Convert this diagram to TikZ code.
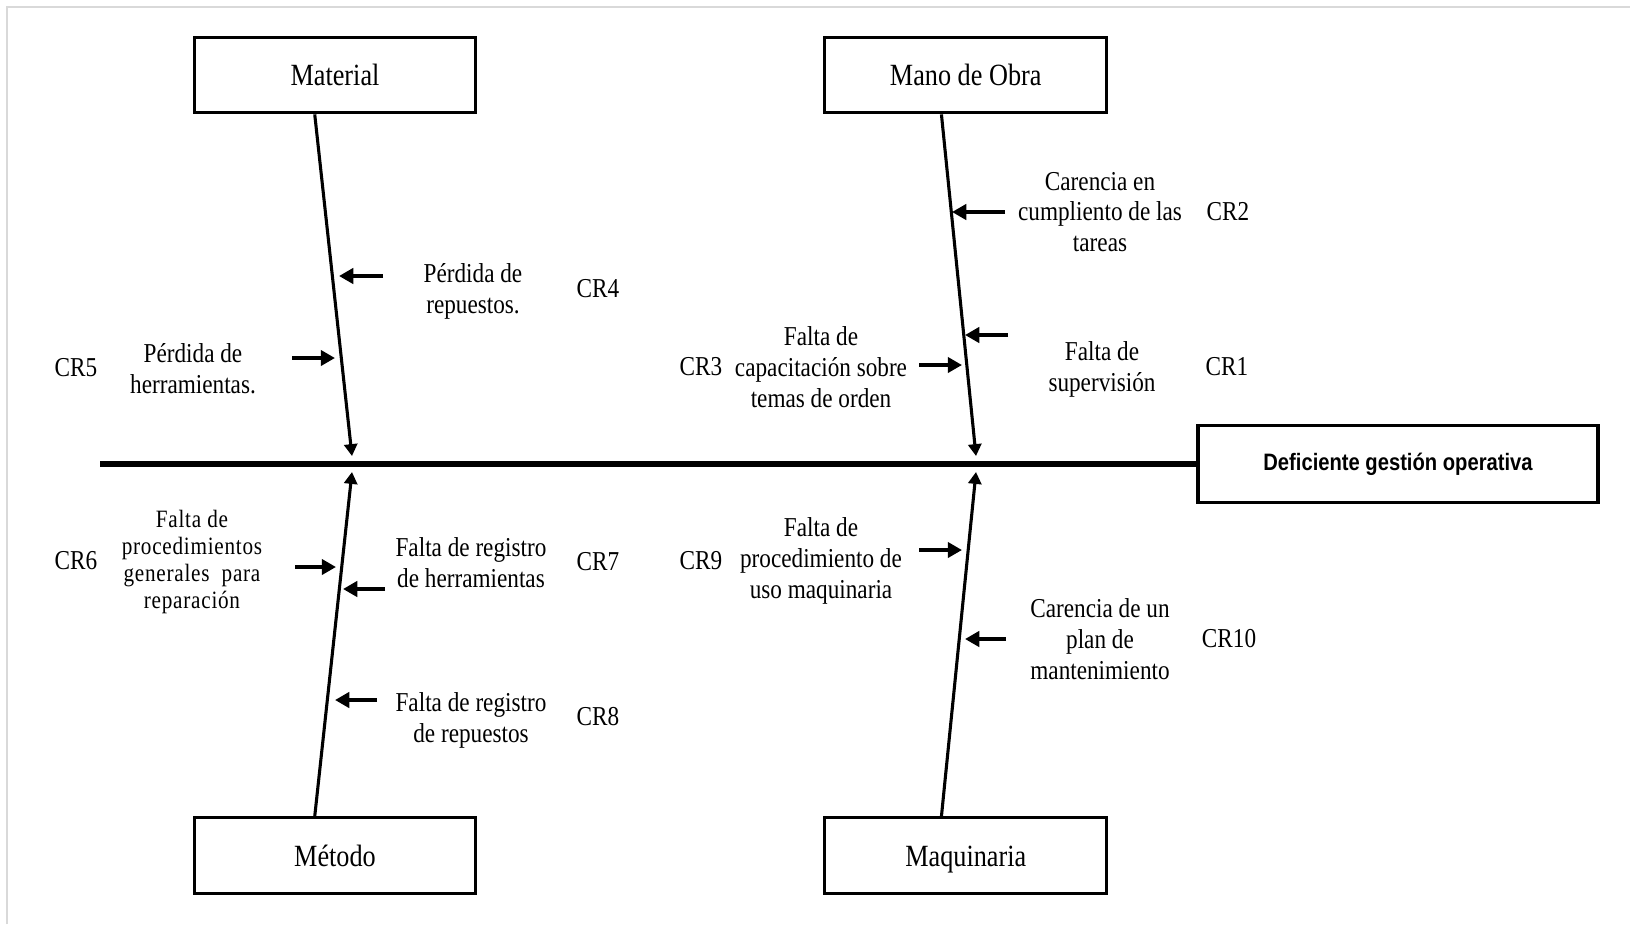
\documentclass[tikz,border=0pt]{standalone}
\usepackage{fontspec}
\setmainfont{Liberation Serif}[FakeStretch=0.85]
\setsansfont{Liberation Sans}[FakeStretch=0.85]
\newfontfamily\spacedserif{Liberation Serif}[FakeStretch=0.85, LetterSpace=3]
\usetikzlibrary{positioning, arrows.meta}

\begin{document}
\begin{tikzpicture}[
    x=0.0148cm, y=-0.0148cm,
    node distance=1cm,
    cat/.style={
        rectangle,
        draw,
        line width=1.3pt,
        minimum width=4.17cm,
        minimum height=1.12cm,
        text height=11pt,
        text depth=2pt,
        align=center,
        font=\fontsize{13}{14}\selectfont
    },
    effect/.style={
        rectangle,
        draw,
        line width=1.3pt,
        minimum width=5.92cm,
        minimum height=1.14cm,
        align=center,
        font=\sffamily\bfseries\fontsize{10}{12}\selectfont
    },
    cause/.style={align=center, font=\fontsize{11.5}{13}\selectfont},
    code/.style={font=\fontsize{11.5}{13}\selectfont},
    spine/.style={line width=2.8pt},
    bone/.style={-{Triangle[length=5pt, width=5.5pt]}, line width=1.3pt},
    hint/.style={-{Triangle[length=6pt, width=6.4pt]}, line width=2pt}
]

% Frame (top and left edge only)
\useasboundingbox (0,0) rectangle (1630,924);
\draw[black!15, line width=0.8pt] (7,924) -- (7,7) -- (1630,7);

% Categories
\node[cat] (material) at (335,75) {Material};
\node[cat, right=5.12cm of material] (mano) {Mano de Obra};
\node[cat, below=10.39cm of material] (metodo) {Método};
\node[cat, below=10.39cm of mano] (maquinaria) {Maquinaria};

% Effect and spine
\node[effect] (effect) at (1398,464) {Deficiente gestión operativa};
\coordinate (tail) at (100,464);
\draw[spine] (tail) -- (effect.west);

% Bones
\coordinate (matTip) at (352,456);
\coordinate (manoTip) at (976,456);
\coordinate (metTip) at (352,472);
\coordinate (maqTip) at (976,472);
\draw[bone] ([xshift=-0.3cm]material.south) -- (matTip);
\draw[bone] ([xshift=-0.36cm]mano.south) -- (manoTip);
\draw[bone] ([xshift=-0.3cm]metodo.north) -- (metTip);
\draw[bone] ([xshift=-0.36cm]maquinaria.north) -- (maqTip);

% Material causes
\node[cause] (c4) at (473,291) {Pérdida de\\repuestos.};
\node[code] (cr4) at (598,289) {CR4};
\node[cause] (c5) at (193,369) {Pérdida de\\herramientas.};
\node[code] (cr5) at (76,368) {CR5};
\coordinate (s4) at (383,276);
\coordinate (e4) at (339,276);
\coordinate (s5) at (292,358);
\coordinate (e5) at (335,358);
\draw[hint] (s4) -- (e4);
\draw[hint] (s5) -- (e5);

% Mano de Obra causes
\node[cause] (c2) at (1100,212) {Carencia en\\cumpliento de las\\tareas};
\node[code] (cr2) at (1228,212) {CR2};
\node[cause] (c1) at (1102,369) {Falta de\\supervisión};
\node[code] (cr1) at (1227,367) {CR1};
\node[cause] (c3) at (821,367) {Falta de\\capacitación sobre\\temas de orden};
\node[code] (cr3) at (701,367) {CR3};
\coordinate (s2) at (1005,212);
\coordinate (e2) at (952,212);
\coordinate (s1) at (1008,335);
\coordinate (e1) at (965,335);
\coordinate (s3) at (919,365);
\coordinate (e3) at (962,365);
\draw[hint] (s2) -- (e2);
\draw[hint] (s1) -- (e1);
\draw[hint] (s3) -- (e3);

% Metodo causes
\node[cause, font=\spacedserif\fontsize{10.5}{11.3}\selectfont] (c6) at (192,562) {Falta de\\procedimientos\\generales~ para\\reparación};
\node[code] (cr6) at (76,561) {CR6};
\node[cause] (c7) at (471,563) {Falta de registro\\de herramientas};
\node[code] (cr7) at (598,562) {CR7};
\node[cause] (c8) at (471,720) {Falta de registro\\de repuestos};
\node[code] (cr8) at (598,717) {CR8};
\coordinate (s6) at (295,567);
\coordinate (e6) at (336,567);
\coordinate (s7) at (385,589);
\coordinate (e7) at (343,589);
\coordinate (s8) at (377,700);
\coordinate (e8) at (335,700);
\draw[hint] (s6) -- (e6);
\draw[hint] (s7) -- (e7);
\draw[hint] (s8) -- (e8);

% Maquinaria causes
\node[cause] (c9) at (821,561) {Falta de\\procedimiento de\\uso maquinaria};
\node[code] (cr9) at (701,561) {CR9};
\node[cause] (c10) at (1100,639) {Carencia de un\\plan de\\mantenimiento};
\node[code] (cr10) at (1229,639) {CR10};
\coordinate (s9) at (919,550);
\coordinate (e9) at (962,550);
\coordinate (s10) at (1006,639);
\coordinate (e10) at (965,639);
\draw[hint] (s9) -- (e9);
\draw[hint] (s10) -- (e10);

\end{tikzpicture}
\end{document}
